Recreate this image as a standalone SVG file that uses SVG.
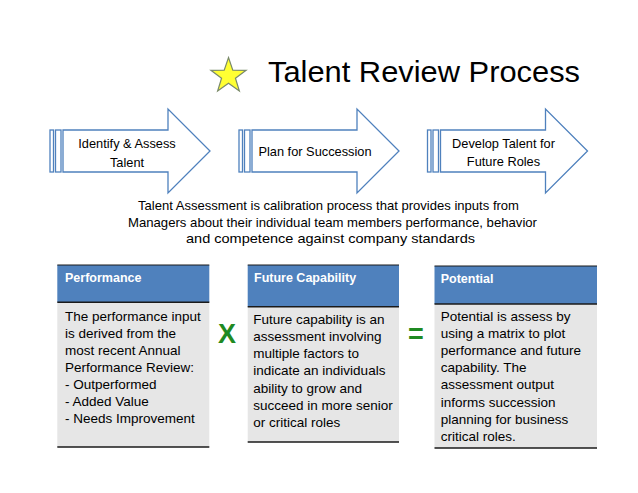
<svg xmlns="http://www.w3.org/2000/svg" xmlns:xlink="http://www.w3.org/1999/xlink" width="638" height="493" viewBox="0 0 638 493">
<style>
text{font-family:"Liberation Sans",Arial,sans-serif;fill:#000}
.arr{fill:#fff;stroke:#4F81BD;stroke-width:1.3}
.at{font-size:12.8px;text-anchor:middle}
.desc{font-size:13px;text-anchor:middle}
.hdr{fill:#4F81BD}
.bdy{fill:#E6E6E6}
.ln{stroke:#1a1a1a;stroke-width:1.4}
.ht{font-size:12.5px;font-weight:bold;fill:#fff}
.bt{font-size:13.5px}
.op{font-size:27px;font-weight:bold;fill:#1F8A22;text-anchor:middle}
</style>
<defs>
<g id="arrowShape">
<rect class="arr" x="50" y="130" width="3.5" height="42"/>
<rect class="arr" x="55.5" y="130" width="5.5" height="42"/>
<path class="arr" d="M63,130 H168 V109 L210,151 L168,193 V172 H63 Z"/>
</g>
</defs>
<rect width="638" height="493" fill="#fff"/>
<g id="title">
<polygon points="228.5,57.5 232.79,70.09 246.09,70.28 235.44,78.26 239.37,90.97 228.5,83.3 217.63,90.97 221.56,78.26 210.91,70.28 224.21,70.09" fill="#FFFF33" stroke="#7A8A6A" stroke-width="1.2"/>
<text x="268" y="82" font-size="30" textLength="312" lengthAdjust="spacingAndGlyphs">Talent Review Process</text>
</g>
<g id="connectors"></g>
<g id="step1">
<use xlink:href="#arrowShape"/>
<text class="at" x="127" y="148">Identify &amp; Assess</text>
<text class="at" x="127" y="166.5">Talent</text>
</g>
<g id="step2">
<use xlink:href="#arrowShape" transform="translate(189,0)"/>
<text class="at" x="315" y="156">Plan for Succession</text>
</g>
<g id="step3">
<use xlink:href="#arrowShape" transform="translate(377.5,0)"/>
<text class="at" x="503.5" y="148.3">Develop Talent for</text>
<text class="at" x="503.5" y="165.5">Future Roles</text>
</g>
<g id="description">
<text class="desc" x="328.5" y="209.5" textLength="381" lengthAdjust="spacingAndGlyphs">Talent Assessment is calibration process that provides inputs from</text>
<text class="desc" x="332.5" y="226.5" textLength="409" lengthAdjust="spacingAndGlyphs">Managers about their individual team members performance, behavior</text>
<text class="desc" x="330.5" y="243" textLength="289" lengthAdjust="spacingAndGlyphs">and competence against company standards</text>
</g>
<g id="performance">
<rect class="hdr" x="57.3" y="265" width="152" height="37.3"/>
<rect class="bdy" x="57.3" y="302.3" width="152" height="144.7"/>
<line x1="57.3" y1="265" x2="209.3" y2="265" stroke="#1a1a1a" stroke-width="1"/>
<line class="ln" x1="57.3" y1="302.3" x2="209.3" y2="302.3"/>
<line class="ln" x1="57.3" y1="447" x2="209.3" y2="447"/>
<text class="ht" x="65" y="282.3">Performance</text>
<text class="bt" x="65" y="320.5">The performance input</text>
<text class="bt" x="65" y="337.6">is derived from the</text>
<text class="bt" x="65" y="354.6">most recent Annual</text>
<text class="bt" x="65" y="371.7">Performance Review:</text>
<text class="bt" x="65" y="388.7">- Outperformed</text>
<text class="bt" x="65" y="405.8">- Added Value</text>
<text class="bt" x="65" y="422.8">- Needs Improvement</text>
</g>
<g id="times">
<text class="op" x="227" y="343.3">X</text>
</g>
<g id="futureCapability">
<rect class="hdr" x="247.7" y="265" width="151.3" height="41.7"/>
<rect class="bdy" x="247.7" y="306.7" width="151.3" height="135.3"/>
<line x1="247.7" y1="265" x2="399" y2="265" stroke="#1a1a1a" stroke-width="1"/>
<line class="ln" x1="247.7" y1="306.7" x2="399" y2="306.7"/>
<line class="ln" x1="247.7" y1="442" x2="399" y2="442"/>
<text class="ht" x="254" y="282.3">Future Capability</text>
<text class="bt" x="253.3" y="323.5">Future capability is an</text>
<text class="bt" x="253.3" y="340.8">assessment involving</text>
<text class="bt" x="253.3" y="358.1">multiple factors to</text>
<text class="bt" x="253.3" y="375.4">indicate an individuals</text>
<text class="bt" x="253.3" y="392.7">ability to grow and</text>
<text class="bt" x="253.3" y="410">succeed in more senior</text>
<text class="bt" x="253.3" y="427.3">or critical roles</text>
</g>
<g id="equals">
<text class="op" x="415.8" y="343">=</text>
</g>
<g id="potential">
<rect class="hdr" x="434.5" y="266" width="162.5" height="38"/>
<rect class="bdy" x="434.5" y="304" width="162.5" height="144"/>
<line x1="434.5" y1="266" x2="597" y2="266" stroke="#1a1a1a" stroke-width="1"/>
<line class="ln" x1="434.5" y1="304" x2="597" y2="304"/>
<line class="ln" x1="434.5" y1="448" x2="597" y2="448"/>
<text class="ht" x="440.7" y="283.3">Potential</text>
<text class="bt" x="440.7" y="320.5">Potential is assess by</text>
<text class="bt" x="440.7" y="337.7">using a matrix to plot</text>
<text class="bt" x="440.7" y="354.9">performance and future</text>
<text class="bt" x="440.7" y="372.1">capability. The</text>
<text class="bt" x="440.7" y="389.3">assessment output</text>
<text class="bt" x="440.7" y="406.5">informs succession</text>
<text class="bt" x="440.7" y="423.7">planning for business</text>
<text class="bt" x="440.7" y="440.9">critical roles.</text>
</g>
</svg>
